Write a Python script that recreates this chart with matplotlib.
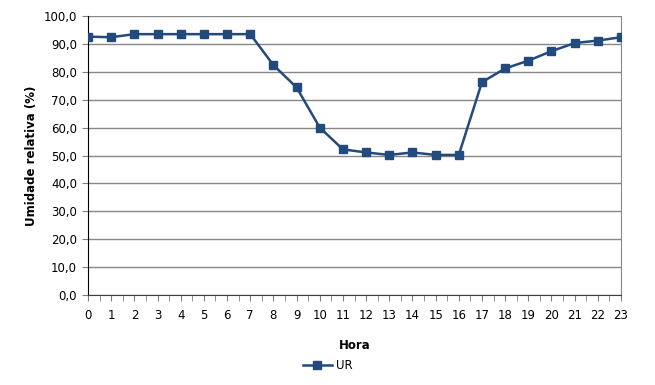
import matplotlib
matplotlib.use("Agg")
import matplotlib.pyplot as plt
from matplotlib.ticker import MultipleLocator, FuncFormatter

# hourly relative humidity
horas = list(range(24))
ur = [92.6, 92.4, 93.5, 93.5, 93.5, 93.5, 93.5, 93.5, 82.4, 74.4, 60.0, 52.2,
      51.1, 50.2, 51.1, 50.2, 50.2, 76.3, 81.2, 84.0, 87.4, 90.3, 91.2, 92.4]
y_ticks = [0, 10, 20, 30, 40, 50, 60, 70, 80, 90, 100]

cor = "#234a7c"
plt.rcParams["font.family"] = ["DejaVu Sans"]

fig = plt.figure(figsize=(6.55, 3.85), dpi=100)
ax = fig.add_axes([0.1344, 0.2338, 0.8137, 0.7246])

ax.plot(horas, ur, color=cor, lw=1.8, marker="s", ms=6.3, label="UR", zorder=3)

ax.set_xlim(0, 23)
ax.set_ylim(0, 100)
ax.set_xticks(horas)
ax.xaxis.set_minor_locator(MultipleLocator(0.5))
ax.set_yticks(y_ticks)
ax.yaxis.set_major_formatter(FuncFormatter(lambda v, p: ("%.1f" % v).replace(".", ",")))

ax.grid(axis="y", color="#878787", lw=1)
ax.set_axisbelow(True)
ax.spines["top"].set_visible(False)
ax.spines["right"].set_color("#878787")
ax.spines["left"].set_color("#000000")
ax.spines["bottom"].set_color("#404040")

ax.tick_params(axis="both", labelsize=8.5, colors="#000000", length=4, pad=4)
ax.tick_params(axis="x", which="both", direction="out", color="#808080", pad=6)
ax.tick_params(axis="x", which="minor", length=4)
ax.tick_params(axis="y", color="#808080")

ax.set_xlabel("Hora", fontsize=8.5, fontweight="bold", labelpad=12)
ax.set_ylabel("Umidade relativa (%)", fontsize=8.5, fontweight="bold", labelpad=4)

fig.legend(loc="center", bbox_to_anchor=(0.5, 0.05), frameon=False, fontsize=8.5,
           handlelength=2.5, handletextpad=0.3)

fig.savefig("out.png", dpi=100)
